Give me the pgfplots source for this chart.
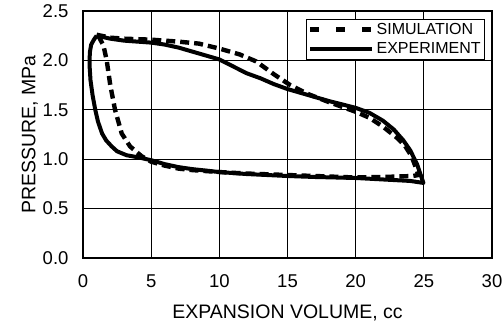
\documentclass[border=0pt]{standalone}
\usepackage{pgfplots}
\pgfplotsset{compat=1.18}
\usepackage{fontspec}
\setmainfont{Liberation Sans}
\begin{document}
\begin{tikzpicture}
\begin{axis}[
  scale only axis,
  width=409pt, height=247pt,
  xmin=0, xmax=30, ymin=0, ymax=2.5,
  xtick={0,5,...,30}, ytick={0,0.5,...,2.5},
  grid=major,
  major grid style={black, line width=0.8pt},
  axis line style={black, line width=1.6pt},
  tick style={black, line width=0.8pt},
  tick align=inside,
  major tick length=4pt,
  /pgf/number format/assume math mode=true,
  yticklabel style={/pgf/number format/fixed, /pgf/number format/fixed zerofill, /pgf/number format/precision=1, font=\fontsize{18.5}{21}\selectfont, xshift=-11pt},
  xticklabel style={font=\fontsize{18.5}{21}\selectfont, yshift=-13pt},
  xlabel={EXPANSION VOLUME, cc},
  ylabel={PRESSURE, MPa},
  label style={font=\fontsize{19.5}{22}\selectfont},
  xlabel style={yshift=-10pt},
  ylabel style={yshift=-2pt},
  legend style={at={(0.983,0.968)}, anchor=north east, draw=black, line width=0.8pt,
    font=\fontsize{16}{18}\selectfont, inner sep=2pt, row sep=3pt,
    legend cell align=left},
]
\addplot[black, line width=4.4pt, dash pattern=on 9pt off 5pt,
  legend image code/.code={\draw[black, line width=4.4pt, dash pattern=on 9pt off 17pt] (0pt,0pt) -- (62pt,0pt);}] coordinates {
(1.0,2.26)(2,2.23)(3,2.22)(5,2.21)(7,2.19)(8.5,2.17)(10,2.12)(11.5,2.06)(12.7,1.99)
(14,1.86)(15.2,1.75)(16.5,1.66)(18,1.58)(19,1.53)(20,1.48)(21,1.42)(22,1.33)(23,1.22)
(23.6,1.14)(24.1,1.03)(24.4,0.92)(24.6,0.84)(24.2,0.83)(22,0.82)(20,0.815)(17,0.83)
(15,0.84)(12,0.855)(10,0.87)(8,0.89)(7,0.905)(6,0.935)(5,0.975)(4.3,1.03)(3.45,1.13)
(2.84,1.26)(2.35,1.5)(2.0,1.75)(1.74,2.0)(1.5,2.15)(1.2,2.23)(1.0,2.26)
};
\addlegendentry{SIMULATION}
\addplot[black, line width=4pt, line join=round,
  legend image code/.code={\draw[black, line width=4pt] (0pt,0pt) -- (62pt,0pt);}] coordinates {
(1.0,2.25)(2,2.22)(3,2.2)(4,2.19)(5,2.18)(6,2.16)(7,2.13)(8,2.09)(9,2.05)(10,2.01)
(11,1.94)(12,1.87)(13,1.82)(14,1.76)(15,1.71)(16,1.67)(17,1.63)(18,1.59)(19,1.555)
(20,1.52)(21,1.47)(22,1.39)(22.8,1.3)(23.5,1.19)(24,1.09)(24.5,0.95)(24.97,0.76)
(24,0.78)(22,0.795)(20,0.81)(17,0.82)(15,0.83)(12,0.85)(10,0.87)(8,0.9)(7,0.92)
(6,0.95)(5,0.99)(4,1.02)(3.2,1.04)(2.5,1.08)(2.1,1.13)(1.7,1.19)(1.4,1.26)(1.1,1.38)
(0.9,1.5)(0.7,1.65)(0.55,1.8)(0.48,1.95)(0.5,2.08)(0.6,2.16)(0.8,2.21)(1.0,2.25)
};
\addlegendentry{EXPERIMENT}
\end{axis}
\pgfresetboundingbox
\path (current axis.south west) ++(-83pt,-67pt) rectangle ++(502pt,325pt);
\end{tikzpicture}
\end{document}
